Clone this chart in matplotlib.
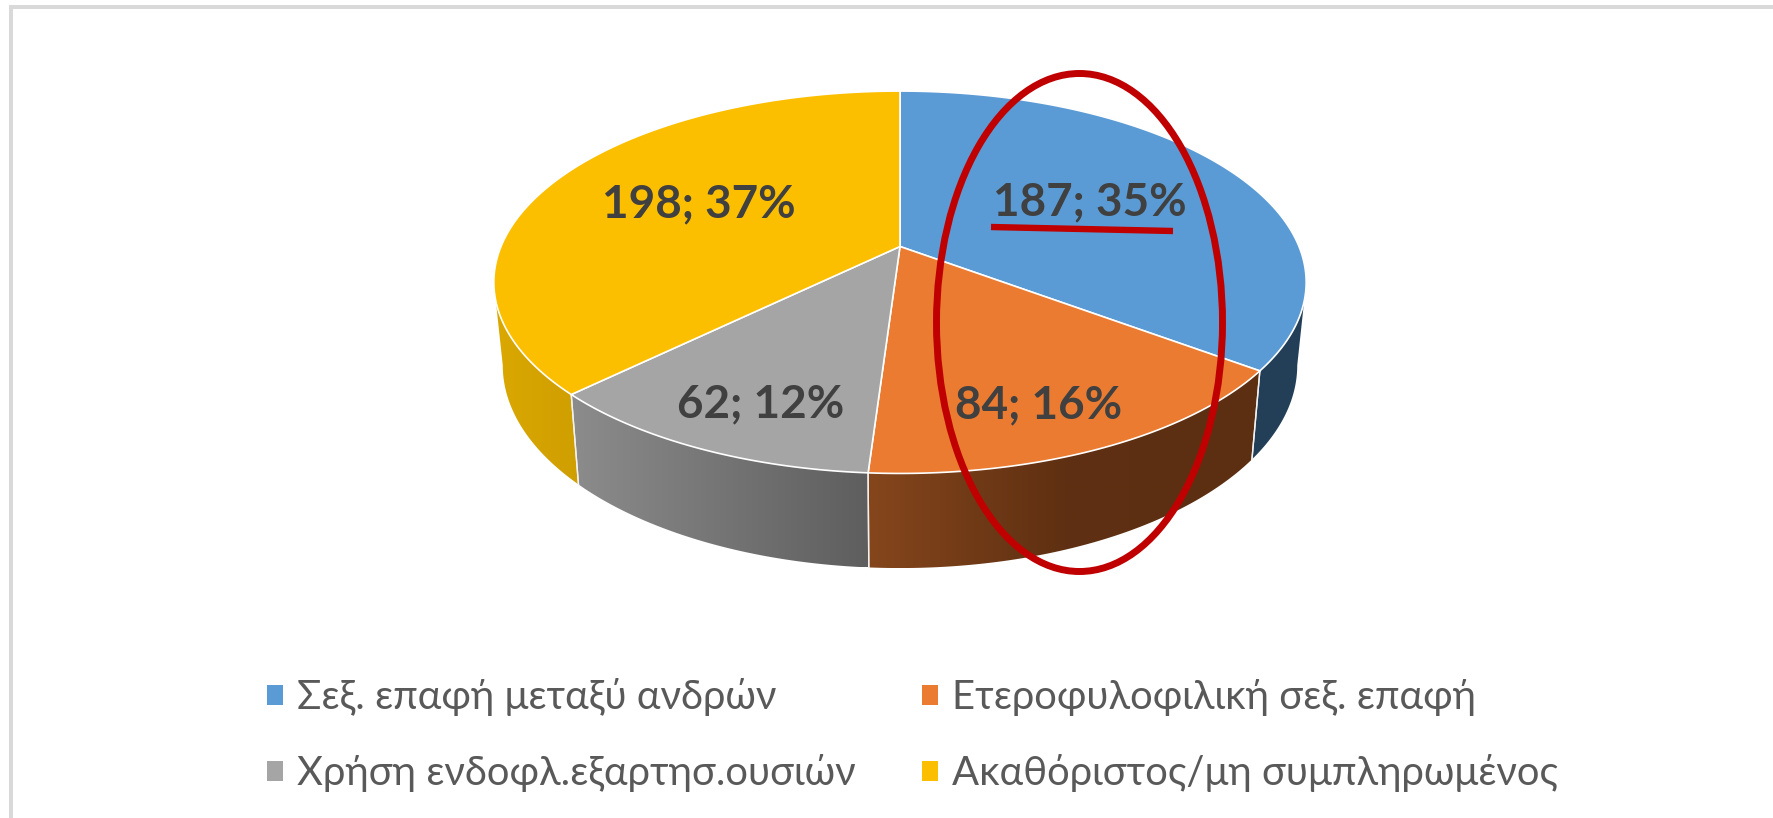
import numpy as np
import matplotlib
matplotlib.use("Agg")
import matplotlib.pyplot as plt
from matplotlib.colors import LinearSegmentedColormap
from matplotlib.patches import Patch, PathPatch, Ellipse, Rectangle
from matplotlib.path import Path

# ---- data ----
categories = ["Σεξ. επαφή μεταξύ ανδρών", "Ετεροφυλοφιλική σεξ. επαφή",
              "Χρήση ενδοφλ.εξαρτησ.ουσιών", "Ακαθόριστος/μη συμπληρωμένος"]
values = [187, 84, 62, 198]
percent_labels = ["35%", "16%", "12%", "37%"]

# ---- styles ----
face_colors = ["#5b9bd5", "#ea7b31", "#a5a5a5", "#fcbf00"]
wall_stops = [["#233f58", "#233f58"],
              ["#85461c", "#5f3012", "#5c2f12"],
              ["#8c8c8c", "#5e5e5e"],
              ["#dba800", "#cf9f00"]]
label_xy = [(1090, 202), (1039, 405), (761, 404), (699, 204)]
plt.rcParams['font.family'] = ['Lato', 'Open Sans', 'DejaVu Sans']

W, H = 1773, 818
fig = plt.figure(figsize=(W / 100, H / 100), dpi=100, facecolor="white")
ax = fig.add_axes([0, 0, 1, 1])
ax.set_xlim(0, W)
ax.set_ylim(H, 0)
ax.axis("off")

# perspective of the pie disc
cx, cy = 900.0, 246.5
k, A, B = 0.187, 399.0, 184.5
low_sx, low_sy, low_d = 0.978, 1.06, 81.0


def top_rim(t):
    x, y = np.sin(t), np.cos(t)
    w = 1 + k * y
    return A * x / w, B * y / w


def to_top(t):
    X, Y = top_rim(t)
    return np.column_stack([cx + X, cy - Y])


def to_bottom(t):
    X, Y = top_rim(t)
    return np.column_stack([cx + low_sx * X, cy - (low_sy * Y - low_d)])


edges = np.concatenate([[0], np.cumsum(values)]) / np.sum(values) * 2 * np.pi
# the wall is visible between the two widest points of the rim
side = np.arccos(-k)
lo, hi = side, 2 * np.pi - side

# walls
for i in range(len(values)):
    a, b = max(edges[i], lo), min(edges[i + 1], hi)
    t = np.linspace(a, b, 120)
    pts = np.vstack([to_top(t), to_bottom(t)[::-1]])
    path = Path(np.vstack([pts, pts[:1]]), closed=True)
    x0, x1 = pts[:, 0].min(), pts[:, 0].max()
    y0, y1 = pts[:, 1].min(), pts[:, 1].max()
    cmap = LinearSegmentedColormap.from_list(f"w{i}", wall_stops[i])
    grad = np.linspace(0, 1, 256)[None, :]
    im = ax.imshow(grad, extent=(x0, x1, y1, y0), cmap=cmap, aspect="auto",
                   interpolation="bilinear", zorder=1)
    patch = PathPatch(path, fc="none", ec="none", transform=ax.transData)
    ax.add_patch(patch)
    im.set_clip_path(patch)
    for edge, inner in ((edges[i], a), (edges[i + 1], b)):
        if edge == inner:
            ax.plot(*np.column_stack([to_top(np.array([edge]))[0],
                                      to_bottom(np.array([edge]))[0]]),
                    color="#f2f2f2", lw=1.0, zorder=2)
ax.set_xlim(0, W)
ax.set_ylim(H, 0)

# top faces
for i in range(len(values)):
    t = np.linspace(edges[i], edges[i + 1], 200)
    pts = np.vstack([[cx, cy], to_top(t), [cx, cy]])
    ax.add_patch(PathPatch(Path(pts, closed=True), fc=face_colors[i], ec="white",
                           lw=1.2, joinstyle="round", zorder=3))

# data labels
for v, p, (x, y) in zip(values, percent_labels, label_xy):
    ax.text(x, y, f"{v}; {p}", ha="center", va="center", fontsize=33,
            fontweight="bold", color="#404040", zorder=4)

# hand-drawn red marks
ax.add_patch(Ellipse((1079.5, 322.5), 286, 498, fc="none", ec="#c00000", lw=5, zorder=5))
ax.plot([991, 1173], [227, 231], color="#c00000", lw=4.6, solid_capstyle="butt", zorder=5)

# legend
order = [0, 2, 1, 3]
handles = [Patch(fc=face_colors[i], ec="none", label=categories[i]) for i in order]
ax.legend(handles=handles, ncol=2, loc="upper left", bbox_to_anchor=(267, 678),
          bbox_transform=ax.transData, frameon=False, fontsize=28.8, labelcolor="#595959",
          borderpad=0, borderaxespad=0, handlelength=0.40, handleheight=0.40,
          handletextpad=0.34, columnspacing=1.68, labelspacing=0.95)

# screenshot frame (top and left edges)
ax.add_patch(Rectangle((9, 5), 3.5, H, fc="#d9d9d9", ec="none", zorder=6))
ax.add_patch(Rectangle((9, 5), W, 3.5, fc="#d9d9d9", ec="none", zorder=6))

fig.savefig("out.png", dpi=100)
